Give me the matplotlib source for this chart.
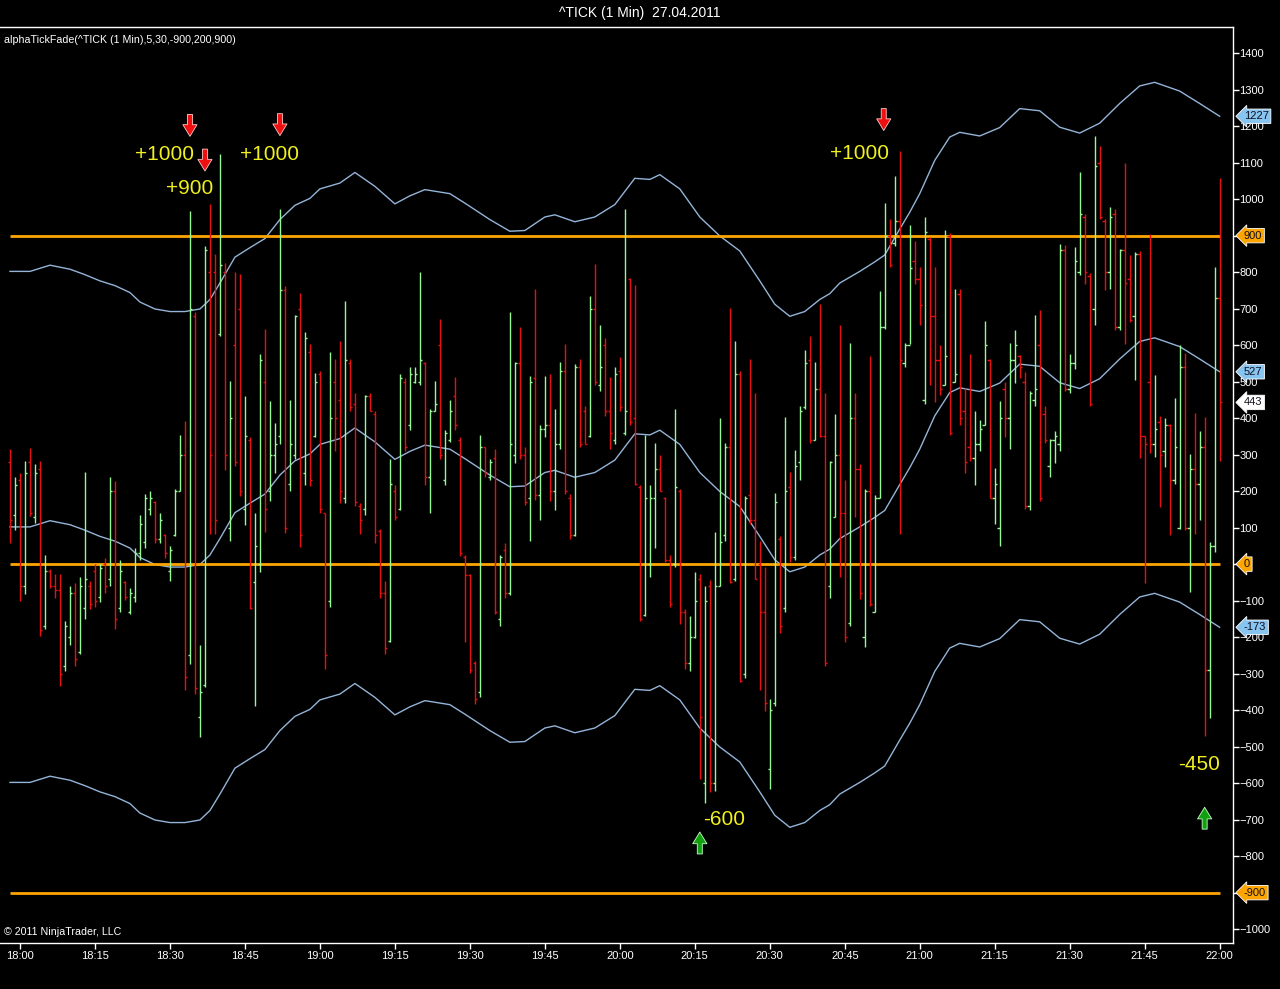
import matplotlib
matplotlib.use("Agg")
import matplotlib.pyplot as plt
import numpy as np

# ^TICK 1-min bars, first bar is 17:58, last bar 22:00
highs = [315, 238, 251, 283, 318, 274, 283, 25, -14, -27, -27, -156, -59, -53, -34, 253, -46, 0, 0, 18,
         238, 227, 12, -46, -66, 44, 134, 192, 199, 173, 141, 83, 50, 205, 354, 393, 968, 690, -221, 871,
         987, 851, 1123, 825, 503, 800, 796, 460, 348, 141, 576, 645, 447, 386, 972, 761, 451, 683, 744, 636,
         602, 524, 528, 141, 580, 561, 612, 722, 561, 468, 167, 464, 470, 419, 96, -46, 289, 218, 522, 509,
         541, 541, 800, 554, 425, 503, 671, 367, 451, 512, 348, 25, -27, -266, 354, 322, 289, 315, 25, 57,
         690, 554, 651, 322, 516, 755, 380, 516, 522, 425, 554, 602, 192, 548, 563, 432, 735, 822, 654, 619,
         512, 541, 567, 972, 783, 765, 218, 354, 218, 331, 300, 183, 25, 425, 205, -124, -143, -21, -27, -59,
         -44, 89, 399, 331, 703, 610, 528, 186, 563, 470, 63, -8, -369, 196, 76, 403, 253, 313, 434, 587,
         625, 554, 713, 470, 283, 412, 654, 231, 606, 470, 274, 205, 571, 189, 748, 990, 946, 1062, 1132, 606,
         929, 886, 813, 951, 897, 813, 599, 916, 907, 755, 755, 483, 576, 419, 395, 667, 561, 264, 447, 499,
         606, 641, 574, 525, 474, 682, 696, 433, 344, 365, 876, 873, 576, 869, 1073, 960, 797, 1172, 1145, 946,
         978, 974, 862, 1100, 846, 855, 859, 351, 905, 519, 406, 399, 385, 456, 600, 579, 301, 413, 365, 402,
         61, 814, 1059]
lows = [57, 93, -101, -83, 132, 112, -198, -178, -66, -92, -333, -292, -221, -279, -247, -150, -124, -118, -105, -79,
        -59, -178, -130, -98, -137, -105, 12, 44, 134, 57, 57, 18, -46, 76, 199, -344, -273, -357, -473, -337,
        83, 83, 625, 257, 63, 270, 186, 108, -124, -389, -21, 89, 173, 251, 328, 85, 199, 289, 47, 218,
        214, 348, 141, -286, -118, 309, 167, 167, 419, 160, 83, 134, 419, 57, -92, -247, -214, 121, 147, 309,
        367, 496, 490, 218, 141, 419, 289, 218, 335, 367, 21, -212, -298, -382, -363, 238, 231, -137, -169, -92,
        -85, 276, 289, 163, 63, 176, 121, 348, 173, 147, 315, 192, 70, 76, 322, 328, 348, 490, 473, 406,
        315, 328, 419, 354, 380, 218, -156, -143, -34, 44, 199, 5, -118, -8, -163, -286, -292, -202, -589, -654,
        -625, -621, -59, 63, -53, -46, -324, -311, 109, -40, -344, -402, -615, -389, -189, -130, 5, 12, 231, 425,
        331, 341, 347, -279, -92, 128, -34, -214, -169, 128, -96, -227, -114, -130, 180, 645, 813, 871, 83, 541,
        602, 767, 654, 438, 490, 444, 464, 490, 354, 499, 380, 251, 283, 218, 309, 380, 180, 109, 50, 348,
        315, 496, 509, 150, 147, 433, 174, 331, 238, 276, 310, 474, 470, 535, 791, 767, 433, 655, 946, 750,
        753, 641, 641, 603, 664, 505, 290, -53, 304, 293, 157, 266, 79, 219, 97, 93, -75, 83, 120, -470,
        -421, 34, 283]
opens = [280, 134, 230, -60, 280, 130, 260, -170, -20, -60, -70, -280, -200, -80, -240, -120, -60, -20, -90, 0,
         -40, 200, -120, -50, -130, -90, 30, 60, 150, 170, 70, 80, -20, 80, 200, 300, -250, 680, -420, -330,
         800, 800, 630, 800, 100, 600, 700, 150, 340, -50, 0, 500, 200, 300, 350, 750, 220, 300, 700, 250,
         580, 350, 520, 140, -100, 500, 450, 180, 550, 440, 160, 150, 460, 410, 90, -80, -210, 200, 150, 500,
         380, 500, 500, 550, 240, 420, 600, 230, 340, 460, 340, 20, -30, -270, -350, 320, 240, 290, -150, 40,
         -80, 300, 550, 300, 180, 510, 190, 370, 380, 200, 330, 530, 180, 80, 540, 420, 350, 700, 490, 600,
         420, 340, 530, 360, 780, 400, 210, -140, 0, 180, 260, 180, 10, 0, 200, -130, -270, -200, -40, -600,
         -60, -600, -60, 80, 320, -40, 520, -300, 190, 120, 0, -130, -560, -380, 70, -120, 210, 20, 280, 430,
         560, 340, 480, 350, -60, 130, 300, 140, -160, 400, 260, -200, 200, -130, 180, 650, 900, 880, 940, 550,
         600, 830, 780, 450, 890, 680, 560, 490, 900, 500, 740, 420, 320, 290, 330, 380, 560, 180, 100, 480,
         400, 560, 570, 500, 160, 450, 600, 410, 270, 340, 330, 860, 480, 550, 800, 950, 790, 700, 1100, 940,
         800, 960, 650, 860, 780, 680, 850, 350, 500, 330, 390, 310, 380, 230, 100, 540, 100, 260, 220, 320,
         -290, 50, 730]
closes = [120, 218, -60, 250, 140, 250, -180, -20, -60, -70, -300, -170, -80, -260, -60, -40, -110, -100, -10, -60,
          200, -150, -20, -90, -80, 30, 110, 180, 180, 70, 120, 30, 40, 200, 300, -310, 700, -340, -350, 860,
          300, 120, 820, 300, 400, 280, 200, 350, -120, 50, 560, 150, 300, 330, 750, 100, 330, 680, 80, 620,
          230, 500, 150, -250, 400, 400, 200, 560, 430, 170, 120, 460, 420, 80, -80, -230, 220, 130, 510, 320,
          520, 520, 560, 240, 420, 440, 300, 360, 420, 380, 30, -30, -290, -370, 320, 250, 280, -130, 20, -80,
          330, 550, 300, 170, 500, 190, 370, 380, 200, 330, 530, 200, 80, 540, 330, 330, 700, 500, 540, 420,
          360, 520, 430, 420, 390, 220, -150, 180, 180, 260, 200, 10, -110, 210, -130, -270, -200, -100, -420, -100,
          -600, -60, 60, 320, -50, 520, -320, 180, 120, -40, -130, -380, -400, 170, -170, 200, 20, 270, 420, 550,
          340, 480, 350, -270, 280, 300, 140, -200, 400, 260, -80, 200, -110, 180, 650, 900, 820, 940, 560, 600,
          810, 780, 710, 910, 680, 560, 480, 570, 360, 520, 400, 280, 290, 330, 370, 600, 180, 220, 400, 400,
          560, 600, 540, 160, 470, 480, 180, 340, 340, 350, 860, 480, 550, 830, 960, 800, 440, 1090, 950, 800,
          950, 650, 860, 770, 670, 850, 350, 330, 330, 370, 300, 380, 230, 320, 540, 100, 260, 220, 320, -290,
          50, 730, 443]

# middle band of the indicator, read every few minutes (bar index, value)
mid_idx = [0, 4, 8, 12, 15, 18, 21, 24, 26, 29, 32, 35, 38, 40, 42, 45, 48, 51, 54, 57,
           60, 62, 66, 69, 73, 77, 80, 83, 88, 91, 96, 100, 103, 107, 109, 113, 117, 121, 125, 128,
           130, 134, 138, 142, 146, 150, 153, 156, 159, 162, 164, 166, 170, 173, 175, 178, 180, 182, 185, 188,
           190, 194, 198, 202, 206, 210, 214, 218, 222, 226, 229, 234, 238, 242]
mid_val = [102, 102, 119, 108, 93, 76, 63, 44, 18, -1, -8, -8, -1, 25, 70, 141, 167, 192, 244, 283,
           302, 328, 344, 373, 335, 287, 309, 326, 315, 289, 244, 212, 214, 251, 257, 238, 251, 285, 357, 354,
           367, 328, 251, 199, 158, 76, 12, -21, -8, 25, 41, 70, 102, 128, 147, 218, 264, 315, 406, 470,
           483, 473, 496, 548, 542, 497, 481, 508, 562, 610, 620, 596, 562, 527]
band_offset = 700   # upper/lower bands sit 700 ticks from the middle

levels = [900, 0, -900]
time_labels = ["18:00", "18:15", "18:30", "18:45", "19:00", "19:15", "19:30", "19:45", "20:00",
               "20:15", "20:30", "20:45", "21:00", "21:15", "21:30", "21:45", "22:00"]
time_pos = [2 + 15 * k for k in range(len(time_labels))]

# signal annotations: (bar index, value, text)
signal_texts = [(31, 1123, "+1000"), (36, 1030, "+900"), (52, 1123, "+1000"), (170, 1126, "+1000"),
                (142.8, -699, "-600"), (237.8, -548, "-450")]
down_arrows = [(36, 1232, 1172), (39, 1137, 1077), (54, 1234, 1174), (174.8, 1248, 1188)]
up_arrows = [(138, -794, -734), (239, -726, -666)]

GREEN = "#98f898"
RED = "#e81010"
BAND = "#94b4d8"
ORANGE = "#ffa500"
YELLOW = "#f0f020"

plt.rcParams['font.family'] = ['Liberation Sans', 'DejaVu Sans']

fig = plt.figure(figsize=(12.8, 9.89), dpi=100, facecolor="black")
ax = fig.add_axes([0.0, 0.0465, 0.963, 0.926], facecolor="black")

x = np.arange(len(highs))
o = np.array(opens)
c = np.array(closes)
cols = np.where(c >= o, GREEN, RED)

# OHLC bars
ax.vlines(x, lows, highs, colors=cols, linewidth=1.0, zorder=3)
ax.hlines(o, x - 0.45, x, colors=cols, linewidth=1.0, zorder=3)
ax.hlines(c, x, x + 0.45, colors=cols, linewidth=1.0, zorder=3)

# bands
mv = np.array(mid_val)
ax.plot(mid_idx, mv, color=BAND, lw=1.0, zorder=2)
ax.plot(mid_idx, mv + band_offset, color=BAND, lw=1.0, zorder=2)
ax.plot(mid_idx, mv - band_offset, color=BAND, lw=1.0, zorder=2)

# fade levels
for lv in levels:
    ax.hlines(lv, x[0], x[-1], colors=ORANGE, linewidth=2.0, zorder=2)

ax.set_xlim(-2, 244.6)
ax.set_ylim(-1038, 1471)

for s in ["top", "right", "bottom"]:
    ax.spines[s].set_color("white")
    ax.spines[s].set_linewidth(1.0)
ax.spines["left"].set_visible(False)

ax.yaxis.tick_right()
ax.set_yticks(np.arange(-1000, 1401, 100))
ax.set_xticks(time_pos)
ax.set_xticklabels(time_labels)
ax.tick_params(axis="both", colors="white", labelsize=8, length=4, width=1, pad=2)
ax.tick_params(axis="y", pad=1)

# price tags on the right axis
tags = [(mv[-1] + band_offset, "#87c4f0"), (900, ORANGE), (mv[-1], "#87c4f0"),
        (closes[-1], "white"), (0, ORANGE), (mv[-1] - band_offset, "#87c4f0"), (-900, ORANGE)]
for val, fc in tags:
    ax.annotate(f"{int(round(val))}", xy=(1.0, val), xycoords=("axes fraction", "data"),
                xytext=(8, 0), textcoords="offset points", ha="left", va="center",
                fontsize=8, color="#101020", zorder=6, annotation_clip=False,
                bbox=dict(boxstyle="larrow,pad=0.2", fc=fc, ec="white", lw=0.6))

# signal labels and arrows
arrow_style = "simple,head_length=0.7,head_width=0.85,tail_width=0.3"
for sx, sy, txt in signal_texts:
    ax.text(sx, sy, txt, color=YELLOW, fontsize=15, ha="center", va="center", zorder=5)
for ax_x, tail, tip in down_arrows:
    ax.annotate("", xy=(ax_x, tip), xytext=(ax_x, tail), zorder=5,
                arrowprops=dict(arrowstyle=arrow_style, fc="#ee1010", ec="#ffc8c8", lw=0.6,
                                mutation_scale=12, shrinkA=0, shrinkB=0))
for ax_x, tail, tip in up_arrows:
    ax.annotate("", xy=(ax_x, tip), xytext=(ax_x, tail), zorder=5,
                arrowprops=dict(arrowstyle=arrow_style, fc="#10a010", ec="#c8ffc8", lw=0.6,
                                mutation_scale=12, shrinkA=0, shrinkB=0))

fig.text(0.5, 0.987, "^TICK (1 Min)  27.04.2011", color="white", fontsize=10, ha="center", va="center")
ax.text(0.003, 0.986, "alphaTickFade(^TICK (1 Min),5,30,-900,200,900)", transform=ax.transAxes,
        color="white", fontsize=7.7, ha="left", va="center")
ax.text(0.003, 0.007, "\u00a9 2011 NinjaTrader, LLC", transform=ax.transAxes,
        color="white", fontsize=7.7, ha="left", va="bottom")

fig.savefig("out.png", dpi=100, facecolor="black")
